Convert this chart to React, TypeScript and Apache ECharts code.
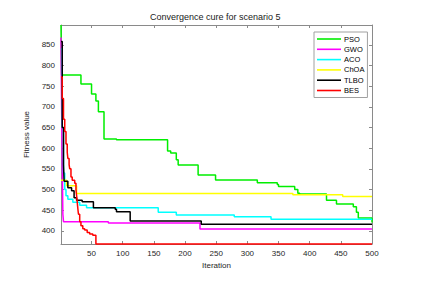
import React, { useEffect, useRef } from "react";
import * as echarts from "echarts";

const FONT = "Liberation Sans, Arial, Helvetica, sans-serif";

const TITLE = "Convergence cure for scenario 5";
const X_NAME = "Iteration";
const Y_NAME = "Fitness value";
const X_MIN = 1;
const X_MAX = 500;
const Y_MIN = 368;
const Y_MAX = 898;
const X_TICKS = [50, 100, 150, 200, 250, 300, 350, 400, 450, 500];
const Y_TICKS = [400, 450, 500, 550, 600, 650, 700, 750, 800, 850];

const NAMES = ["PSO", "GWO", "ACO", "ChOA", "TLBO", "BES"];
const COLORS = ["#00ee00", "#ff00ff", "#00ffff", "#ffff00", "#000000", "#ff0000"];

// [iteration, best fitness] at each change point (step function)
const PSO = [
  [1, 898], [2, 777], [33, 755], [50, 731], [57, 714], [61, 688], [70, 622], [90, 620],
  [172, 593], [177, 588], [186, 572], [189, 559], [221, 535], [249, 523], [316, 516],
  [348, 512], [350, 507], [376, 500], [381, 491], [384, 489], [427, 474], [443, 465],
  [470, 458], [475, 445], [478, 431], [500, 420],
];
const GWO = [
  [1, 868], [2, 700], [3, 560], [4, 440], [5, 422], [77, 419], [224, 404], [500, 404],
];
const ACO = [
  [1, 840], [3, 650], [5, 540], [7, 500], [9, 485], [12, 476], [20, 469], [31, 462],
  [42, 456], [157, 445], [186, 438], [279, 434], [338, 428], [500, 428],
];
const CHOA = [
  [1, 522], [10, 509], [26, 490], [373, 487], [453, 483], [500, 483],
];
const TLBO = [
  [1, 858], [3, 650], [5, 560], [6, 520], [12, 504], [18, 497], [22, 480], [26, 474],
  [35, 470], [53, 456], [88, 452], [90, 446], [112, 423.5], [226, 415.5], [500, 415.5],
];
const BES = [
  [1, 772], [3, 720], [5, 670], [7, 640], [9, 610], [11, 590], [12, 575], [14, 560],
  [15, 550], [17, 530], [19, 522], [23, 515], [25, 500], [26, 486], [27, 470], [28, 454],
  [29, 440], [31, 422], [33, 412], [36, 405], [39, 402], [43, 396], [47, 392], [52, 389],
  [57, 368], [500, 368],
];

const SERIES_DATA = [PSO, GWO, ACO, CHOA, TLBO, BES];

export default function App() {
  const ref = useRef<HTMLDivElement>(null);
  useEffect(() => {
    if (!ref.current) return;
    const chart = echarts.init(ref.current, null, { renderer: "svg" });
    const axisLine = { show: true, lineStyle: { color: "#8a8a8a", width: 1 } };
    const label = { fontFamily: FONT, fontSize: 8, color: "#262626" };
    chart.setOption({
      animation: false,
      backgroundColor: "#ffffff",
      textStyle: { fontFamily: FONT },
      title: {
        text: TITLE,
        left: 150,
        top: 12,
        padding: 0,
        textStyle: { fontFamily: FONT, fontSize: 9, fontWeight: "normal", color: "#1a1a1a" },
      },
      grid: { left: 61, top: 25, right: 50, bottom: 46, containLabel: false },
      legend: {
        orient: "vertical",
        left: 314,
        top: 32,
        padding: [2, 3, 2, 3],
        itemGap: 0.3,
        itemWidth: 24,
        itemHeight: 1.6,
        icon: "rect",
        borderColor: "#a0a0a0",
        borderWidth: 1,
        backgroundColor: "#ffffff",
        textStyle: { fontFamily: FONT, fontSize: 7.5, color: "#000", padding: [0, 0, 0, -2], lineHeight: 10 },
        data: NAMES,
      },
      xAxis: [
        {
          type: "value",
          min: X_MIN,
          max: X_MAX,
          name: X_NAME,
          nameLocation: "middle",
          nameGap: 16,
          nameTextStyle: { fontFamily: FONT, fontSize: 8, color: "#262626" },
          axisLine,
          axisTick: { show: true, inside: true, length: 3, lineStyle: { color: "#8a8a8a" }, customValues: X_TICKS },
          axisLabel: { ...label, margin: 5, customValues: X_TICKS },
          splitLine: { show: false },
        },
        {
          type: "value",
          position: "top",
          min: X_MIN,
          max: X_MAX,
          axisLine,
          axisTick: { show: true, inside: true, length: 3, lineStyle: { color: "#8a8a8a" }, customValues: X_TICKS },
          axisLabel: { show: false },
          splitLine: { show: false },
        },
      ],
      yAxis: [
        {
          type: "value",
          min: Y_MIN,
          max: Y_MAX,
          name: Y_NAME,
          nameLocation: "middle",
          nameGap: 19,
          nameTextStyle: { fontFamily: FONT, fontSize: 8, color: "#262626" },
          axisLine,
          axisTick: { show: true, inside: true, length: 3, lineStyle: { color: "#8a8a8a" }, customValues: Y_TICKS },
          axisLabel: { ...label, margin: 6, customValues: Y_TICKS },
          splitLine: { show: false },
        },
        {
          type: "value",
          position: "right",
          min: Y_MIN,
          max: Y_MAX,
          axisLine,
          axisTick: { show: true, inside: true, length: 3, lineStyle: { color: "#8a8a8a" }, customValues: Y_TICKS },
          axisLabel: { show: false },
          splitLine: { show: false },
        },
      ],
      series: SERIES_DATA.map((d, i) => ({
        name: NAMES[i],
        type: "line",
        step: "end",
        data: d,
        symbol: "none",
        showSymbol: false,
        clip: false,
        xAxisIndex: 0,
        yAxisIndex: 0,
        itemStyle: { color: COLORS[i] },
        lineStyle: { color: COLORS[i], width: 1.5 },
        z: 2 + i,
      })),
    });
    return () => chart.dispose();
  }, []);
  return (
    <div
      ref={ref}
      style={{ position: "fixed", left: 0, top: 0, width: 422, height: 290, background: "#fff" }}
    />
  );
}
